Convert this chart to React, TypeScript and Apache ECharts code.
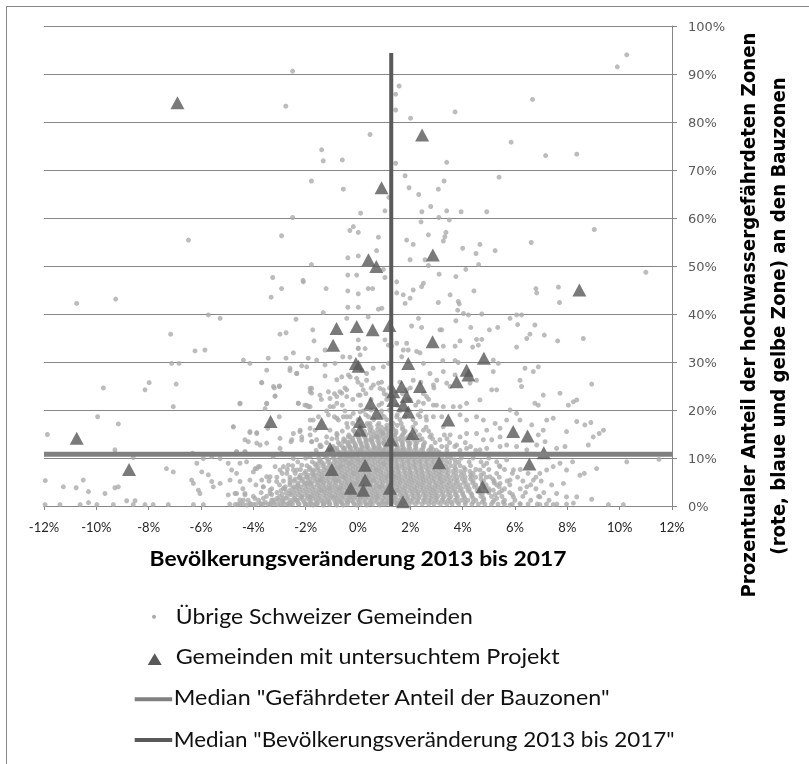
import React, { useEffect, useRef } from "react";
import * as echarts from "echarts";

// ---- axis set-up ----
const X_MIN = -12;
const X_MAX = 12;
const X_STEP = 2;
const Y_MIN = 0;
const Y_MAX = 100;
const Y_STEP = 10;

// ---- medians ----
const MEDIAN_SHARE = 10.8; // % endangered share of building zones
const MEDIAN_POP = 1.27; // % population change 2013-2017
const MEDIAN_POP_LINE_TOP = 94.4;

// ---- texts ----
const X_TITLE = "Bevölkerungsveränderung 2013 bis 2017";
const Y_TITLE_1 = "Prozentualer Anteil der hochwassergefährdeten Zonen";
const Y_TITLE_2 = "(rote, blaue und gelbe Zone) an den Bauzonen";
const SERIES_NAMES = [
  "Übrige Schweizer Gemeinden",
  "Gemeinden mit untersuchtem Projekt",
  'Median "Gefährdeter Anteil der Bauzonen"',
  'Median "Bevölkerungsveränderung 2013 bis 2017"',
];

// ---- municipalities with an examined project: [population change %, endangered share %] ----
const PROJECTS: [number, number][] = [
  [-6.9, 84], [0.9, 66.3], [0.4, 51.3], [0.7, 49.9], [2.45, 77.3], [2.86, 52.3], [8.46, 45],
  [-0.82, 37], [-0.05, 37.4], [0.56, 36.7], [1.2, 37.6],
  [-0.95, 33.5], [-0.08, 29.7], [0.02, 29.1], [0.48, 21.4], [0.71, 19.3], [0.07, 17.6], [0.07, 15.8],
  [-3.34, 17.6], [-1.39, 17.2], [-10.75, 14.1], [-1.07, 12.0], [-8.75, 7.6], [-1.0, 7.6], [0.27, 8.5],
  [0.27, 5.4], [-0.28, 3.7], [0.2, 3.3], [1.22, 3.7], [1.25, 13.75], [1.35, 23.8], [1.35, 22], [1.72, 0.9],
  [2.85, 34.2], [1.92, 29.7], [4.81, 30.8], [4.15, 28.3], [4.22, 27.3], [3.77, 25.9], [2.37, 24.9],
  [1.67, 24.9], [1.86, 22.8], [1.73, 21], [1.92, 19.6], [3.45, 17.9], [2.09, 15.1], [5.93, 15.5],
  [6.48, 14.6], [7.1, 11.1], [3.1, 9.0], [6.55, 8.75], [4.76, 4.0],
];

// ---- other Swiss municipalities ----
const DOTS_UPPER: [number, number][] = [
  [-2.5, 90.6], [-2.76, 83.3], [0.46, 77.4], [-1.39, 74.2], [-1.33, 71.9], [-0.6, 72.1], [1.44, 71.4],
  [-1.78, 67.7], [-0.56, 66], [1.18, 64.3], [1.03, 61.5], [0.1, 61], [-2.5, 60.1], [-0.18, 58.2],
  [-0.31, 57.4], [0.01, 57], [-2.92, 56.3], [-6.48, 55.4], [0.78, 56], [0.71, 53.2], [-0.39, 51.7],
  [0.01, 52.1], [-1.78, 50.3], [-3.26, 47.6], [-0.39, 48.1], [-0.05, 48.1], [1.44, 85.8], [1.57, 87.5],
  [1.44, 82.5], [0.97, 49.3], [-2.1, 47],
  [9.91, 91.5], [10.27, 94], [6.67, 84.7], [3.71, 82.1], [2.01, 80.8], [5.85, 75.8], [7.17, 73],
  [8.36, 73.3], [3.39, 71.6], [1.8, 68.8], [5.39, 68.5], [1.95, 66.3], [2.32, 64.9], [3.07, 66],
  [3.29, 67.7], [2.44, 61.3], [2.78, 62.4], [3.39, 61.5], [3.94, 61.3], [4.92, 61.3], [2.41, 59.2],
  [3.09, 60.1], [3.49, 59.6], [9.03, 57.6], [1.86, 55.4], [2.11, 54.5], [2.69, 56.5], [3.26, 55.2],
  [3.36, 57], [3.32, 56.1], [4.0, 53.7], [4.66, 54.5], [4.51, 52.6], [5.24, 53.2], [6.62, 54.9],
  [1.99, 51.3], [2.56, 51.3], [2.69, 50.1], [3.1, 48.3], [3.74, 47.8], [4.12, 49.3], [4.61, 50.3],
  [11.0, 48.7],
];

const DOTS_LEFT: [number, number][] = [
  [-2.09, 46.7], [-2.92, 45.3], [-1.22, 45.3], [-0.39, 44.8], [0.01, 44.2], [0.39, 45.3], [0.56, 45.3],
  [1.03, 47.6], [-3.32, 43.5], [-0.39, 41.4], [0.01, 41.4], [0.78, 41], [-10.75, 42.2], [-9.26, 43.1],
  [-5.72, 39.8], [-5.27, 39.1], [-2.37, 38.9], [-1.33, 40.3], [-0.43, 39.1], [0.39, 39.4], [0.91, 41.2],
  [-7.16, 35.8], [-2.98, 35.8], [-2.75, 36.1], [-1.73, 36.7], [-1.68, 34.4], [-6.23, 32.3], [-5.85, 32.5],
  [0.01, 34.6], [0.01, 32.9], [0.08, 31.5], [1.29, 33.3], [1.48, 33.9], [-1.26, 32.5], [-7.12, 29.7],
  [-6.84, 29.7], [-4.38, 30.4], [-4.13, 29.7], [-3.43, 30.8], [-2.75, 30.8], [-2.47, 31.9], [-1.9, 30.8],
  [-1.58, 30.4], [-1.26, 29.4], [-0.88, 29.7], [-0.58, 31.1], [-0.31, 31], [-3.49, 28.3], [-2.6, 28.7],
  [-2.34, 27.6], [-2.15, 29.2], [-1.96, 29], [-0.81, 26.3], [-0.62, 26.9], [-0.37, 27.3], [-0.05, 26.6],
  [0.33, 27.6], [0.58, 28.7], [0.97, 29], [1.16, 29.7], [-9.73, 24.6], [-8.14, 24.2], [-7.98, 25.7],
  [-6.95, 25.4], [-3.68, 25.7], [-3.2, 24.6], [-3.01, 24.9], [-3.17, 22.9], [-1.83, 24.5], [-1.77, 23.5],
  [-1.45, 23.1], [-1.13, 23.8], [-0.62, 23.5], [-0.43, 22.8], [0.01, 23.1], [0.2, 24.2], [0.84, 24.5],
  [-7.06, 20.7], [-4.51, 21.3], [-3.49, 21.3], [-3.55, 20.3], [-2.28, 21.4], [-2.03, 21], [-1.9, 20.7],
  [-1.07, 20.7], [-0.81, 21.4], [-9.95, 18.6], [-9.16, 17.1], [-4.77, 16.5], [-4.13, 15.3], [-3.87, 15.3],
  [-3.45, 16.2], [-3.01, 18.6], [-2.98, 14.1], [-2.47, 15.1], [-2.22, 15.5], [-1.83, 16.2], [-1.71, 17.9],
  [-1.13, 19], [-0.81, 18.3], [-0.43, 18.6], [-0.18, 19.3], [0.08, 19.6], [-11.87, 14.9], [-4.19, 13.4],
  [-3.87, 13.1], [-3.49, 13.1], [-2.56, 13.4], [-2.15, 13.75], [-1.77, 13.4], [-1.45, 12.4], [-0.81, 14.1],
  [-0.56, 13.4], [-0.31, 12.4], [0.46, 13.75], [0.71, 14.4], [0.97, 15.1], [-9.29, 11.7], [-9.29, 11],
  [-8.59, 10.1], [-6.32, 11], [-4.64, 11.3], [-4.32, 11.3], [-5.91, 9.9], [-5.59, 10.3], [-5.27, 9.9],
  [-3.24, 10.3], [-2.92, 11], [-2.47, 9.9], [-1.83, 10.3], [-1.58, 11], [-0.69, 11], [-0.31, 10.3],
  [0.08, 11.7], [0.58, 11], [0.97, 11.7], [-11.95, 5.3], [-11.26, 4.0], [-10.77, 3.8], [-10.5, 5.4],
  [-10.3, 3.0], [-9.67, 2.6], [-9.29, 3.8], [-9.16, 4.0], [-7.32, 7.8], [-7.06, 7.1], [-6.16, 8.9],
  [-5.97, 7.1], [-5.72, 6.5], [-5.59, 5.1], [-5.53, 4.0], [-5.27, 4.7], [-6.36, 5.4], [-6.29, 4.7],
  [-6.1, 3.3], [-6.04, 2.6], [-4.96, 8.9], [-4.89, 5.4], [-4.64, 6.8], [-4.51, 5.1], [-4.26, 9.2],
  [-4.0, 7.1], [-3.87, 7.8], [-3.75, 8.2], [-3.62, 4.0], [-3.49, 6.1], [-3.36, 3.3], [-3.11, 5.1],
  [-2.85, 8.2], [-2.72, 6.8], [-2.47, 7.5], [-2.22, 5.8], [-1.96, 4.7], [-1.71, 6.5], [-1.45, 5.4],
  [-4.96, 2.3], [-4.7, 2.6], [-4.51, 1.25], [-4.32, 2.6], [-3.94, 1.6], [-3.62, 1.6], [-3.24, 1.25],
  [-2.85, 1.6], [-2.41, 1.25], [-2.15, 1.9], [-1.83, 1.9],
  [-11.96, 0.3], [-11.39, 0.3], [-10.62, 0.3], [-10.3, 0.7], [-9.98, 0.3], [-9.35, 0.3], [-8.84, 1.1],
  [-8.52, 1.1], [-8.59, 0.3], [-8.14, 0.3], [-7.83, 0.3], [-7.25, 0.3], [-6.29, 0.3], [-5.91, 0.3],
  [-4.7, 0.3], [-4.51, 0.4], [-4.0, 0.3], [-3.62, 0.4], [-3.36, 0.3], [-3.05, 0.3], [-2.85, 0.4],
  [-2.6, 0.3], [-2.28, 0.4], [-1.9, 0.3], [-1.64, 0.4], [-1.33, 0.3], [-1.07, 0.4],
];

const DOTS_RIGHT_EDGE: [number, number][] = [
  [8.61, 34.9], [8.93, 25.4], [8.23, 21.7], [8.36, 22.1], [8.04, 21.0], [8.9, 17.4], [8.36, 17.6],
  [8.67, 16.9], [9.38, 15.8], [9.22, 15.1], [8.99, 14.4], [8.8, 12.7], [10.27, 9.2], [11.5, 9.7],
  [8.2, 9.2], [9.12, 7.8], [8.65, 6.8], [8.48, 6.4], [8.93, 1.4], [9.57, 0.3], [10.14, 0.3], [8.23, 0.6],
  [8.36, 1.9], [6.95, 0.3], [7.46, 0.3], [7.97, 0.4],
  [1.48, 46.7], [1.48, 44.4], [1.03, 34.6], [1.16, 33.5], [0.01, 32.8], [0.27, 32.8],
];

const DOTS_CORE_LEFT: [number, number][] = [
  [-3.68, 25.7], [-3.23, 24.9], [-3.0, 25.0], [-3.17, 22.9], [-3.49, 21.4], [-4.51, 21.4], [-2.28, 21.4],
  [-1.96, 21.0], [-1.83, 20.7], [-1.83, 23.8], [-1.77, 24.5], [-1.26, 27.1], [-2.34, 27.6], [-2.6, 28.2],
  [-1.07, 22.4], [-0.81, 22.8], [-0.69, 23.8], [-0.43, 24.2], [-0.94, 20.7], [0.08, 23.1], [0.14, 25.2],
  [0.59, 25.2], [0.78, 25.6], [0.97, 24.2], [1.1, 23.1], [0.91, 21.4], [0.33, 26.2], [-0.3, 26.9],
  [0.14, 28.3],
  [-4.76, 16.5], [-4.13, 15.5], [-3.87, 15.1], [-4.32, 13.8], [-3.74, 12.7], [-2.98, 12.0], [-2.53, 13.8],
  [-2.21, 15.8], [-2.15, 14.4], [-1.83, 14.8], [-1.77, 13.4], [-1.83, 17.9], [-1.51, 18.6], [-1.64, 15.8],
  [-1.58, 13.8], [-1.45, 12.7], [-1.2, 14.4], [-1.07, 15.8], [-0.81, 15.1], [-0.75, 17.9], [-0.56, 18.6],
  [-0.43, 17.2], [-0.37, 14.4], [-0.3, 13.4], [-0.18, 15.8], [-0.11, 12.4], [-0.5, 12.0], [-0.81, 12.0],
  [-1.07, 11.7], [0.46, 17.2], [0.72, 14.4], [0.91, 15.5], [1.1, 16.2], [1.35, 17.2], [1.48, 18.6],
  [0.97, 13.1], [0.72, 12.0], [0.33, 12.4], [1.22, 12.4], [1.48, 11.7], [-4.64, 11.3], [-4.32, 11.3],
  [-4.83, 7.5], [-4.51, 8.9], [-3.93, 7.8], [-3.81, 8.2], [-4.13, 5.4], [-3.68, 5.4], [-3.36, 6.1],
  [-3.17, 8.2], [-2.98, 7.5], [-2.66, 8.5], [-2.6, 5.4], [-2.34, 7.5], [-2.15, 8.5], [-2.85, 3.7],
  [-3.62, 4.0], [-3.36, 2.6], [-3.04, 1.2], [-2.6, 2.6], [-2.34, 4.0], [-1.96, 6.1], [-1.83, 4.7],
  [-1.71, 7.5], [-1.51, 8.9], [-1.45, 5.4], [-1.39, 3.3], [-1.83, 1.9], [-2.34, 1.2], [-2.66, 0.5],
  [-3.36, 0.5], [-4.13, 0.5], [-4.38, 1.2], [-4.64, 2.6], [-4.32, 2.3], [-4.25, 0.2], [-3.74, 0.5],
  [-2.02, 0.3], [-1.58, 0.5], [-1.2, 0.9], [-0.94, 1.9], [-1.07, 3.7], [-0.69, 3.7], [-0.81, 5.4],
  [-0.56, 6.1], [-0.69, 8.2], [-0.5, 9.6], [-0.3, 8.9], [-0.18, 6.8], [0.01, 9.6], [-0.11, 4.7],
  [-0.3, 1.9], [0.08, 1.9], [0.46, 0.5], [0.72, 1.9], [0.84, 4.0], [1.1, 6.1], [0.59, 5.4], [0.72, 7.5],
  [0.97, 8.9], [1.22, 9.6], [1.48, 8.2], [1.42, 6.1], [1.48, 3.3], [1.48, 0.5], [1.1, 0.5], [0.84, 0.2],
  [0.33, 0.2], [-0.56, 0.2], [-0.81, 0.2], [-1.32, 0.2], [-1.71, 0.2], [-0.05, 0.2], [-0.37, 0.9],
  [-0.69, 0.9],
];

const DOTS_CORE_RIGHT: [number, number][] = [
  [2.11, 26.2], [1.86, 24.2], [2.75, 27.6], [3.26, 28.0], [3.01, 26.2], [3.52, 24.9], [2.88, 25.2],
  [3.39, 25.6], [3.71, 27.3], [4.53, 26.2], [4.28, 25.6], [5.17, 28.0], [6.7, 28.0], [6.19, 26.2],
  [6.25, 24.9], [5.3, 24.2], [5.11, 24.2], [4.66, 22.1], [4.15, 21.4], [7.08, 23.1], [7.72, 23.5],
  [6.76, 21.4], [6.89, 21.0], [3.9, 20.7], [3.64, 20.7], [3.26, 20.7], [2.88, 21.0], [2.5, 21.4],
  [2.31, 21.7], [2.62, 22.8], [1.99, 22.1],
  [2.37, 18.6], [2.62, 17.9], [2.88, 18.6], [3.26, 16.5], [3.9, 19.0], [4.15, 17.9], [4.53, 18.6],
  [4.79, 17.9], [4.92, 15.8], [5.24, 17.2], [5.43, 16.2], [5.68, 17.9], [5.81, 20.0], [6.06, 19.3],
  [6.19, 17.9], [5.43, 14.4], [5.11, 13.8], [4.79, 13.8], [4.53, 15.1], [4.15, 15.1], [3.9, 14.4],
  [3.52, 14.8], [3.13, 13.8], [2.75, 14.4], [2.5, 15.8], [2.37, 13.8], [1.99, 13.1], [1.73, 11.7],
  [2.88, 11.7], [3.39, 12.4], [3.77, 12.7], [4.15, 12.0], [4.66, 11.7], [4.92, 12.0], [5.43, 12.4],
  [5.68, 12.7], [6.06, 12.4], [6.45, 11.7], [6.83, 12.7], [7.15, 13.4], [7.59, 12.0], [7.91, 12.4],
  [7.21, 17.9], [7.46, 18.3], [7.97, 15.5], [7.08, 15.8], [6.89, 14.8], [6.64, 16.9],
  [5.68, 9.6], [5.94, 7.5], [5.81, 5.4], [5.43, 4.7], [5.17, 3.3], [5.94, 1.9], [6.45, 4.0], [6.7, 5.4],
  [6.95, 6.8], [7.21, 7.5], [7.46, 8.2], [7.72, 8.9], [7.97, 7.5], [7.85, 4.7], [7.59, 2.6], [7.97, 1.9],
  [6.95, 1.9], [6.19, 0.5], [5.81, 0.2], [5.43, 8.2], [4.92, 8.9], [4.66, 7.5], [5.04, 6.1], [4.34, 6.1],
];

const DOTS_MID_RIGHT: [number, number][] = [
  [1.73, 44.0], [1.99, 43.3], [1.8, 42.2], [2.11, 45.0], [2.43, 45.7], [2.5, 46.4], [3.52, 44.0],
  [3.83, 42.6], [3.87, 42.1], [4.43, 44.8], [3.07, 42.4], [3.81, 40.8], [4.03, 40.1], [4.22, 39.8],
  [4.73, 40.0], [5.81, 39.1], [6.06, 39.8], [6.25, 39.8], [6.8, 45.3], [6.83, 44.4], [7.66, 45.6],
  [7.7, 42.4], [2.31, 39.1], [2.05, 37.5], [2.43, 37.2], [3.13, 36.7], [3.2, 36.7], [3.74, 38.6],
  [4.31, 37.2], [5.02, 36.7], [5.34, 37.2], [6.1, 37.8], [6.76, 37.7], [7.12, 35.6], [6.45, 34.9],
  [6.57, 35.8], [7.63, 34.4], [6.06, 33.1], [1.86, 33.9], [1.92, 32.5], [1.73, 32.5], [2.24, 32.2],
  [2.37, 31.9], [3.26, 33.3], [3.71, 33.3], [3.9, 34.4], [4.38, 33.1], [4.53, 34.7], [4.73, 34.7],
  [4.6, 33.5], [3.24, 30.3], [3.71, 30.3], [3.83, 29.9], [5.17, 30.4], [5.36, 29.7], [2.5, 29.7],
  [1.67, 31.1], [6.38, 28.7], [6.89, 29.0],
];

// dense core of the cloud, read row by row: [share %, population-change values %]
const CORE_ROWS: [number, number[]][] = [
  [0.4, [-4.9, -4.6, -4.4, -4.1, -3.9, -3.7, -3.45, -3.2, -2.95, -2.7, -2.5, -2.25, -2.0, -1.8, -1.55, -1.3, -1.1, -0.85, -0.6, -0.4, -0.15, 0.1, 0.3, 0.55, 0.8, 1.0, 1.25, 1.5, 1.7, 1.95, 2.2, 2.45, 2.7, 2.9, 3.15, 3.4, 3.6, 3.85, 4.1, 4.35, 4.6, 4.85, 5.1, 5.35, 5.6, 5.9, 6.2, 6.5, 6.85, 7.2, 7.6]],
  [0.8, [-3.55, -3.2, -2.85, -2.55, -2.3, -2.05, -1.8, -1.55, -1.35, -1.1, -0.85, -0.62, -0.4, -0.18, 0.05, 0.28, 0.5, 0.72, 0.95, 1.15, 1.4, 1.6, 1.85, 2.08, 2.3, 2.55, 2.8, 3.05, 3.3, 3.55, 3.8, 4.1, 4.4, 4.75, 5.15, 5.55]],
  [1.2, [-4.2, -3.8, -3.3, -2.9, -2.6, -2.35, -2.1, -1.85, -1.6, -1.4, -1.15, -0.9, -0.7, -0.45, -0.25, 0.0, 0.2, 0.45, 0.65, 0.9, 1.1, 1.35, 1.55, 1.8, 2.0, 2.25, 2.5, 2.7, 2.95, 3.2, 3.45, 3.7, 3.95, 4.2, 4.5, 4.8, 5.2, 5.6, 6.0, 6.6, 7.3]],
  [1.6, [-3.1, -2.75, -2.45, -2.2, -1.95, -1.72, -1.5, -1.28, -1.05, -0.82, -0.6, -0.38, -0.15, 0.08, 0.3, 0.52, 0.75, 0.98, 1.2, 1.42, 1.65, 1.88, 2.1, 2.32, 2.55, 2.78, 3.0, 3.25, 3.5, 3.78, 4.08, 4.4, 4.8, 5.3]],
  [2.0, [-4.0, -3.5, -3.0, -2.7, -2.4, -2.15, -1.9, -1.65, -1.45, -1.2, -1.0, -0.75, -0.55, -0.3, -0.1, 0.15, 0.35, 0.6, 0.8, 1.05, 1.25, 1.45, 1.7, 1.9, 2.15, 2.35, 2.6, 2.85, 3.05, 3.3, 3.55, 3.8, 4.05, 4.35, 4.7, 5.1, 5.5, 6.3, 6.9]],
  [2.4, [-3.3, -2.9, -2.55, -2.28, -2.02, -1.78, -1.55, -1.32, -1.1, -0.88, -0.65, -0.42, -0.2, 0.02, 0.25, 0.48, 0.7, 0.92, 1.15, 1.38, 1.6, 1.82, 2.05, 2.28, 2.5, 2.72, 2.95, 3.2, 3.45, 3.72, 4.0, 4.35, 4.75, 5.25, 5.9]],
  [2.8, [-3.7, -3.1, -2.75, -2.45, -2.2, -1.95, -1.7, -1.5, -1.25, -1.05, -0.8, -0.6, -0.35, -0.15, 0.1, 0.3, 0.55, 0.75, 1.0, 1.2, 1.4, 1.65, 1.85, 2.1, 2.3, 2.55, 2.8, 3.0, 3.25, 3.5, 3.75, 4.0, 4.3, 4.65, 5.0, 5.4, 5.8, 6.4, 7.1]],
  [3.2, [-2.95, -2.62, -2.35, -2.1, -1.85, -1.62, -1.4, -1.18, -0.95, -0.72, -0.5, -0.28, -0.05, 0.18, 0.4, 0.62, 0.85, 1.08, 1.3, 1.52, 1.75, 1.98, 2.2, 2.42, 2.65, 2.88, 3.12, 3.38, 3.62, 3.9, 4.2, 4.55, 5.0, 5.5]],
  [3.6, [-4.4, -3.3, -2.8, -2.5, -2.25, -2.0, -1.75, -1.5, -1.3, -1.1, -0.85, -0.65, -0.4, -0.2, 0.05, 0.25, 0.5, 0.7, 0.95, 1.15, 1.35, 1.6, 1.8, 2.05, 2.25, 2.5, 2.75, 2.95, 3.2, 3.45, 3.7, 3.95, 4.25, 4.6, 5.0, 5.6, 6.2, 6.8]],
  [4.0, [-2.78, -2.45, -2.18, -1.92, -1.68, -1.45, -1.22, -1.0, -0.78, -0.55, -0.32, -0.1, 0.12, 0.35, 0.58, 0.8, 1.02, 1.25, 1.48, 1.7, 1.92, 2.15, 2.38, 2.6, 2.82, 3.05, 3.3, 3.55, 3.82, 4.12, 4.45, 4.85, 5.4]],
  [4.4, [-3.9, -3.0, -2.6, -2.3, -2.05, -1.8, -1.55, -1.35, -1.1, -0.9, -0.65, -0.45, -0.2, 0.0, 0.25, 0.45, 0.7, 0.9, 1.15, 1.35, 1.55, 1.8, 2.0, 2.25, 2.45, 2.7, 2.95, 3.15, 3.4, 3.65, 3.9, 4.2, 4.5, 4.9, 5.3, 5.8, 6.6, 7.4]],
  [4.8, [-2.6, -2.3, -2.02, -1.78, -1.52, -1.3, -1.08, -0.85, -0.62, -0.4, -0.18, 0.05, 0.28, 0.5, 0.72, 0.95, 1.18, 1.4, 1.62, 1.85, 2.08, 2.3, 2.52, 2.75, 2.98, 3.22, 3.48, 3.75, 4.05, 4.38, 4.75, 5.2]],
  [5.2, [-3.4, -2.85, -2.45, -2.15, -1.9, -1.65, -1.4, -1.2, -0.95, -0.75, -0.5, -0.3, -0.05, 0.15, 0.4, 0.6, 0.85, 1.05, 1.3, 1.5, 1.7, 1.95, 2.15, 2.4, 2.6, 2.85, 3.1, 3.3, 3.55, 3.8, 4.1, 4.4, 4.8, 5.2, 5.7, 6.3, 7.0]],
  [5.6, [-2.4, -2.1, -1.82, -1.58, -1.35, -1.12, -0.9, -0.68, -0.45, -0.22, 0.0, 0.22, 0.45, 0.68, 0.9, 1.12, 1.35, 1.58, 1.8, 2.02, 2.25, 2.48, 2.7, 2.92, 3.15, 3.4, 3.68, 3.98, 4.3, 4.7, 5.15]],
  [6.0, [-3.1, -2.6, -2.25, -1.95, -1.7, -1.45, -1.25, -1.0, -0.8, -0.55, -0.35, -0.1, 0.1, 0.35, 0.55, 0.8, 1.0, 1.25, 1.45, 1.65, 1.9, 2.1, 2.35, 2.55, 2.8, 3.05, 3.25, 3.5, 3.8, 4.1, 4.5, 4.9, 5.4, 6.1, 6.8]],
  [6.4, [-2.2, -1.9, -1.62, -1.38, -1.15, -0.92, -0.7, -0.48, -0.25, -0.02, 0.2, 0.42, 0.65, 0.88, 1.1, 1.32, 1.55, 1.78, 2.0, 2.22, 2.45, 2.68, 2.9, 3.12, 3.38, 3.65, 3.95, 4.3, 4.7]],
  [6.8, [-2.9, -2.4, -2.05, -1.75, -1.5, -1.3, -1.05, -0.85, -0.6, -0.4, -0.15, 0.05, 0.3, 0.5, 0.75, 0.95, 1.2, 1.4, 1.6, 1.85, 2.05, 2.3, 2.5, 2.75, 3.0, 3.2, 3.45, 3.75, 4.05, 4.4, 4.8, 5.3, 5.9, 6.5]],
  [7.2, [-2.0, -1.7, -1.42, -1.18, -0.95, -0.72, -0.5, -0.28, -0.05, 0.18, 0.4, 0.62, 0.85, 1.08, 1.3, 1.52, 1.75, 1.98, 2.2, 2.42, 2.65, 2.88, 3.1, 3.35, 3.62, 3.92, 4.28]],
  [7.6, [-2.7, -2.2, -1.85, -1.55, -1.3, -1.1, -0.85, -0.65, -0.4, -0.2, 0.0, 0.25, 0.45, 0.7, 0.9, 1.15, 1.35, 1.55, 1.8, 2.0, 2.25, 2.45, 2.7, 2.95, 3.2, 3.45, 3.75, 4.1, 4.5, 5.0, 5.6, 6.2]],
  [8.0, [-1.85, -1.52, -1.25, -1.0, -0.78, -0.55, -0.32, -0.1, 0.12, 0.35, 0.58, 0.8, 1.02, 1.25, 1.48, 1.7, 1.92, 2.15, 2.38, 2.6, 2.85, 3.1, 3.38, 3.7, 4.05]],
  [8.4, [-2.5, -1.95, -1.6, -1.35, -1.1, -0.9, -0.65, -0.45, -0.2, 0.0, 0.2, 0.45, 0.65, 0.9, 1.1, 1.3, 1.55, 1.75, 2.0, 2.2, 2.45, 2.7, 2.95, 3.25, 3.55, 3.9, 4.3, 4.8, 5.4]],
  [8.8, [-1.65, -1.32, -1.05, -0.8, -0.58, -0.35, -0.12, 0.1, 0.32, 0.55, 0.78, 1.0, 1.22, 1.45, 1.68, 1.9, 2.12, 2.35, 2.58, 2.82, 3.08, 3.38, 3.72]],
  [9.2, [-2.3, -1.75, -1.4, -1.15, -0.9, -0.7, -0.45, -0.25, 0.0, 0.2, 0.4, 0.65, 0.85, 1.1, 1.3, 1.5, 1.75, 1.95, 2.2, 2.4, 2.65, 2.9, 3.2, 3.5, 3.85, 4.25, 4.7, 5.3]],
  [9.6, [-1.45, -1.12, -0.85, -0.62, -0.38, -0.15, 0.08, 0.3, 0.52, 0.75, 0.98, 1.2, 1.42, 1.65, 1.88, 2.1, 2.32, 2.55, 2.8, 3.05, 3.35, 3.7]],
  [10.0, [-2.0, -1.5, -1.2, -0.95, -0.7, -0.5, -0.25, -0.05, 0.2, 0.4, 0.6, 0.85, 1.05, 1.3, 1.5, 1.7, 1.95, 2.15, 2.4, 2.65, 2.9, 3.2, 3.55, 3.95, 4.4, 5.0]],
  [10.4, [-1.25, -0.92, -0.65, -0.42, -0.2, 0.02, 0.25, 0.48, 0.7, 0.92, 1.15, 1.38, 1.6, 1.82, 2.05, 2.28, 2.52, 2.78, 3.05, 3.4]],
  [10.8, [-1.8, -1.3, -1.0, -0.75, -0.5, -0.3, -0.05, 0.15, 0.4, 0.6, 0.8, 1.05, 1.25, 1.5, 1.7, 1.9, 2.15, 2.4, 2.65, 2.95, 3.3, 3.7, 4.2, 4.8]],
  [11.2, [-1.05, -0.72, -0.45, -0.22, 0.0, 0.22, 0.45, 0.68, 0.9, 1.12, 1.35, 1.58, 1.8, 2.02, 2.25, 2.5, 2.78, 3.1]],
  [11.6, [-1.6, -1.1, -0.8, -0.55, -0.3, -0.1, 0.1, 0.35, 0.55, 0.8, 1.0, 1.2, 1.45, 1.65, 1.9, 2.15, 2.4, 2.7, 3.0, 3.4, 3.9, 4.5]],
  [12.0, [-0.9, -0.55, -0.28, -0.05, 0.18, 0.4, 0.62, 0.85, 1.08, 1.3, 1.52, 1.75, 1.98, 2.22, 2.48, 2.78]],
  [12.4, [-1.4, -0.95, -0.6, -0.35, -0.1, 0.15, 0.35, 0.6, 0.8, 1.05, 1.25, 1.5, 1.7, 1.95, 2.2, 2.5, 2.8, 3.2, 3.7, 4.3]],
  [12.8, [-0.7, -0.38, -0.1, 0.12, 0.35, 0.58, 0.8, 1.02, 1.25, 1.48, 1.7, 1.95, 2.2, 2.5]],
  [13.2, [-1.2, -0.75, -0.4, -0.15, 0.1, 0.3, 0.55, 0.8, 1.0, 1.25, 1.45, 1.7, 1.95, 2.25, 2.55, 2.95, 3.5, 4.1]],
  [13.6, [-0.5, -0.2, 0.05, 0.3, 0.52, 0.75, 0.98, 1.2, 1.42, 1.65, 1.9, 2.18]],
  [14.0, [-1.0, -0.55, -0.2, 0.05, 0.3, 0.55, 0.8, 1.05, 1.3, 1.55, 1.8, 2.1, 2.45, 2.85, 3.4]],
  [14.4, [-0.3, 0.0, 0.25, 0.5, 0.72, 0.95, 1.18, 1.4, 1.65, 1.92]],
  [14.8, [-0.8, -0.35, 0.0, 0.3, 0.6, 0.85, 1.1, 1.4, 1.7, 2.0, 2.35, 2.8, 3.3]],
  [15.2, [-0.1, 0.2, 0.45, 0.7, 0.95, 1.2, 1.45, 1.75]],
  [15.6, [-0.6, -0.15, 0.25, 0.55, 0.85, 1.15, 1.45, 1.8, 2.2, 2.7]],
  [16.0, [0.15, 0.45, 0.75, 1.05, 1.35, 1.7]],
  [16.4, [-0.4, 0.1, 0.5, 0.9, 1.3, 1.7, 2.1, 2.6]],
  [16.8, [0.4, 0.75, 1.1, 1.5]],
  [17.2, [-0.2, 0.35, 0.8, 1.25, 1.65, 2.2]],
  [18.0, [0.0, 0.6, 1.1, 1.6, 2.1]],
  [18.6, [-0.9, -0.3, 0.4, 1.0, 1.8, 2.6, 3.2]],
  [19.0, [0.3, 0.9, 1.5, 2.3]],
  [19.8, [-1.2, -0.5, 0.2, 0.9, 1.6, 2.4]],
  [20.0, [0.5, 1.2, 1.9]],
  [21.0, [-0.6, 0.1, 0.8, 1.5, 2.2, 3.0]],
  [22.2, [-1.4, -0.2, 0.5, 1.1, 1.9, 2.7]],
  [23.4, [-0.9, 0.3, 1.0, 1.7, 2.5]],
  [24.6, [-0.5, 0.5, 1.2, 2.0, 2.9]],
  [25.8, [0.0, 0.9, 1.6, 2.4]],
];

const OTHER_MUNICIPALITIES: [number, number][] = [
  ...DOTS_UPPER,
  ...DOTS_LEFT,
  ...DOTS_RIGHT_EDGE,
  ...DOTS_CORE_LEFT,
  ...DOTS_CORE_RIGHT,
  ...DOTS_MID_RIGHT,
  ...CORE_ROWS.flatMap(([share, xs]) => xs.map((x) => [x, share] as [number, number])),
];

// ---- colours ----
const DOT_COLOR = "#ababab";
const TRI_COLOR = "#595959";
const H_MEDIAN_COLOR = "#808080";
const V_MEDIAN_COLOR = "#595959";
const GRID_COLOR = "#868686";

export default function App() {
  const ref = useRef<HTMLDivElement>(null);

  useEffect(() => {
    if (!ref.current) return;
    const chart = echarts.init(ref.current, null, { renderer: "svg" });
    const ctx = document.createElement("canvas").getContext("2d")!;
    const fit = (text: string, font: string, target: number) => {
      ctx.font = font;
      const w = ctx.measureText(text).width;
      return w > 0 ? target / w : 1;
    };

    const LEG_SIZE = 21;
    const LEG_FONT = `${LEG_SIZE}px Lato`;
    const TITLE_FONT = "bold 21px Lato";
    const YT_FONT = "bold 19px 'DejaVu Sans'";

    const legendRows = [
      { left: 175.7, y: 616.3, width: 297.6 },
      { left: 175.7, y: 656, width: 384.3 },
      { left: 173.8, y: 697.3, width: 437.9 },
      { left: 173.8, y: 738.8, width: 500.7 },
    ];

    const legendTexts = SERIES_NAMES.map((name, i) => ({
      type: "text",
      x: legendRows[i].left,
      y: legendRows[i].y,
      scaleX: fit(name, LEG_FONT, legendRows[i].width),
      silent: true,
      style: {
        text: name,
        fontSize: LEG_SIZE,
        fontFamily: "Lato",
        fill: "#111",
        textAlign: "left",
        textVerticalAlign: "middle",
      },
    }));

    const option: any = {
      animation: false,
      textStyle: { fontFamily: "Lato" },
      grid: {
        left: 44,
        top: 26,
        width: 628,
        height: 480,
        containLabel: false,
        outerBoundsMode: "none",
      },
      xAxis: {
        type: "value",
        min: X_MIN,
        max: X_MAX,
        interval: X_STEP,
        axisLine: { show: true, onZero: false, lineStyle: { color: GRID_COLOR, width: 1 } },
        axisTick: { show: true, inside: false, length: 4, lineStyle: { color: GRID_COLOR } },
        splitLine: { show: false },
        axisLabel: {
          formatter: (v: number) => `${v}%`,
          color: "#262626",
          fontFamily: "Lato",
          fontSize: 13,
          margin: 14,
        },
      },
      yAxis: {
        type: "value",
        position: "right",
        min: Y_MIN,
        max: Y_MAX,
        interval: Y_STEP,
        axisLine: { show: true, onZero: false, lineStyle: { color: GRID_COLOR, width: 1 } },
        axisTick: { show: true, inside: false, length: 5, lineStyle: { color: GRID_COLOR } },
        splitLine: { show: true, lineStyle: { color: GRID_COLOR, width: 1 } },
        axisLabel: {
          formatter: (v: number) => `${v}%`,
          color: "#595959",
          fontFamily: "DejaVu Sans",
          fontSize: 13,
          margin: 16,
        },
      },
      series: [
        {
          name: SERIES_NAMES[0],
          type: "scatter",
          data: OTHER_MUNICIPALITIES,
          symbol: "circle",
          symbolSize: 5,
          itemStyle: { color: DOT_COLOR },
          silent: true,
          clip: false,
          large: false,
          progressive: 0,
        },
        {
          name: SERIES_NAMES[1],
          type: "scatter",
          data: PROJECTS,
          symbol: "triangle",
          symbolSize: [14, 13],
          itemStyle: { color: TRI_COLOR },
          silent: true,
          clip: false,
        },
        {
          name: SERIES_NAMES[2],
          type: "line",
          data: [
            [X_MIN, MEDIAN_SHARE],
            [X_MAX, MEDIAN_SHARE],
          ],
          symbol: "none",
          lineStyle: { color: H_MEDIAN_COLOR, width: 5 },
          silent: true,
        },
        {
          name: SERIES_NAMES[3],
          type: "line",
          data: [
            [MEDIAN_POP, Y_MIN],
            [MEDIAN_POP, MEDIAN_POP_LINE_TOP],
          ],
          symbol: "none",
          lineStyle: { color: V_MEDIAN_COLOR, width: 4 },
          silent: true,
        },
      ],
      graphic: [
        {
          type: "rect",
          silent: true,
          shape: { x: 6.5, y: 6.5, width: 900, height: 900 },
          style: { fill: "none", stroke: GRID_COLOR, lineWidth: 1 },
        },
        {
          type: "text",
          x: 358,
          y: 557.5,
          scaleX: fit(X_TITLE, TITLE_FONT, 417),
          silent: true,
          style: {
            text: X_TITLE,
            fontSize: 21,
            fontWeight: "bold",
            fontFamily: "Lato",
            fill: "#000",
            textAlign: "center",
            textVerticalAlign: "middle",
          },
        },
        {
          type: "text",
          x: 748,
          y: 315,
          rotation: Math.PI / 2,
          scaleX: fit(Y_TITLE_1, YT_FONT, 565),
          silent: true,
          style: {
            text: Y_TITLE_1,
            fontSize: 19,
            fontWeight: "bold",
            fontFamily: "DejaVu Sans",
            fill: "#000",
            textAlign: "center",
            textVerticalAlign: "middle",
          },
        },
        {
          type: "text",
          x: 778,
          y: 316,
          rotation: Math.PI / 2,
          scaleX: fit(Y_TITLE_2, YT_FONT, 478),
          silent: true,
          style: {
            text: Y_TITLE_2,
            fontSize: 19,
            fontWeight: "bold",
            fontFamily: "DejaVu Sans",
            fill: "#000",
            textAlign: "center",
            textVerticalAlign: "middle",
          },
        },
        // legend symbols
        {
          type: "circle",
          silent: true,
          shape: { cx: 154, cy: 616.7, r: 2 },
          style: { fill: DOT_COLOR },
        },
        {
          type: "polygon",
          silent: true,
          shape: {
            points: [
              [147.7, 665],
              [154.7, 653.3],
              [161.7, 665],
            ],
          },
          style: { fill: TRI_COLOR },
        },
        {
          type: "line",
          silent: true,
          shape: { x1: 134.7, y1: 699.3, x2: 172.2, y2: 699.3 },
          style: { stroke: H_MEDIAN_COLOR, lineWidth: 4 },
        },
        {
          type: "line",
          silent: true,
          shape: { x1: 134.7, y1: 740, x2: 172.2, y2: 740 },
          style: { stroke: V_MEDIAN_COLOR, lineWidth: 4 },
        },
        ...legendTexts,
      ],
    };

    chart.setOption(option);
    return () => chart.dispose();
  }, []);

  return (
    <div
      ref={ref}
      style={{ position: "fixed", left: 0, top: 0, width: 809, height: 764 }}
    />
  );
}
